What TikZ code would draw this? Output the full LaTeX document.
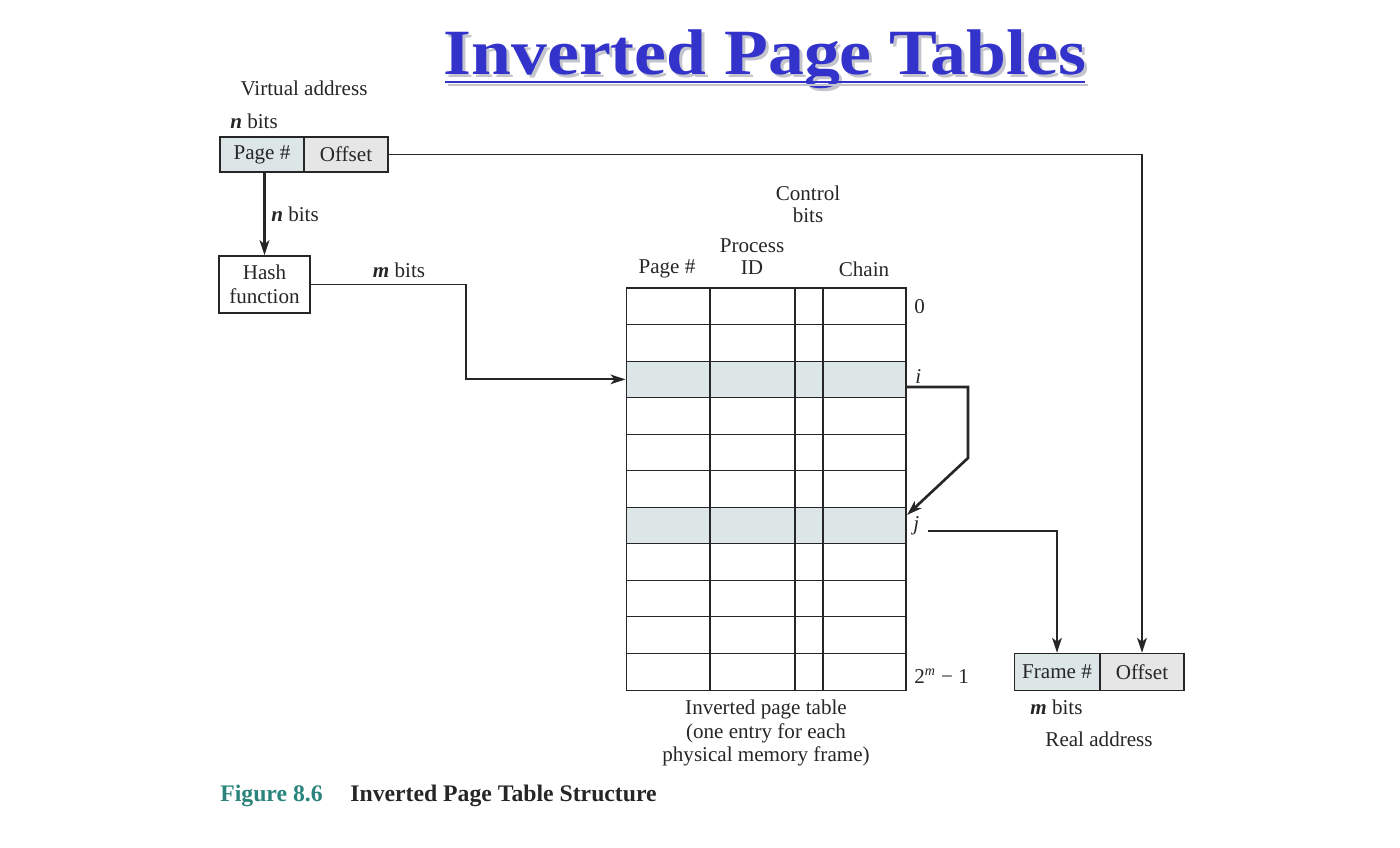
\documentclass[tikz,border=0pt]{standalone}
\usepackage{graphicx}
\usepackage{fontspec}
\setmainfont{Liberation Serif}
\usetikzlibrary{arrows.meta,calc}
\definecolor{ink}{HTML}{262626}
\definecolor{titleblue}{HTML}{3333CC}
\definecolor{shadowgray}{HTML}{C4C4CC}
\definecolor{pagefill}{HTML}{DDE6E6}
\definecolor{offfill}{HTML}{E6E6E6}
\definecolor{figteal}{HTML}{2A847C}
\newcommand{\headline}{\scalebox{1}[0.9]{Inverted Page Tables}}
\begin{document}
\begin{tikzpicture}[x=0.02cm,y=-0.02cm,
  every node/.style={text=ink,font=\fontsize{12}{14}\selectfont,inner sep=0pt},
  field/.style={draw=ink,line width=0.8pt,minimum height=0.7cm,minimum width=1.68cm},
  entry/.style={draw=ink,line width=0.6pt,minimum width=5.6cm,minimum height=0.731cm},
  shaded/.style={fill=pagefill},
  tip/.style={-{Stealth[length=8.5pt,width=5.5pt,inset=2.2pt]}},
  link/.style={draw=ink,line width=1.1pt,tip},
  boldlink/.style={draw=ink,line width=1.7pt,tip},
  label/.style={align=center},
  titlefont/.style={font=\fontsize{40.8}{44}\bfseries}]
\useasboundingbox (0,0) rectangle (1400,848);

% title with soft drop shadow and underline
\node[text=shadowgray,titlefont,anchor=base] (titleshadow) at (768,78) {\headline};
\node[text=titleblue,titlefont,anchor=base] (title) at (765,75) {\headline};
\draw[shadowgray,line width=1.7pt] (448,85) -- (1088,85);
\draw[titleblue,line width=1.7pt] (445,82) -- (1085,82);

% virtual address
\node (vlabel) at (304,88) {Virtual address};
\node (vbits) at (254,121) {\textbf{\textit{n}} bits};
\node[field,fill=pagefill] (vpage) at (262,154.5) {Page \#};
\node[field,fill=offfill] (voff) at (346,154.5) {Offset};

% hash function
\node[field,minimum width=1.82cm,minimum height=1.14cm,align=center,
      font=\fontsize{12}{13.5}\selectfont] (hash) at (264.5,284.5) {Hash\\function};
\draw[boldlink] (hash.north |- vpage.south) -- (hash.north);
\node (nbits) at (295,214) {\textbf{\textit{n}} bits};
\node (mbits) at (399,270) {\textbf{\textit{m}} bits};

% inverted page table
\foreach \r in {0,...,10}{
  \node[entry] (r\r) at (766,{288+36.55*\r+18.275}) {};
}
\node[entry,shaded] at (r2) {};
\node[entry,shaded] at (r6) {};
\foreach \c in {710,795,823}{
  \draw[ink,line width=0.6pt] (\c,288) -- (\c,690);
}
\node (hpage) at (667,269) {Page \#};
\node[label] (hpid) at (752,257) {Process\\[-1.5pt]ID};
\node (hchain) at (864,269) {Chain};
\node[label] (hctl) at (808,204) {Control\\[-1.5pt]bits};

\node[anchor=west] (l0) at (914,307) {0};
\node[anchor=west] (li) at (915,377) {\textit{i}};
\node[anchor=west] (lj) at (913,526) {\textit{j}};
\node[anchor=west] (lm) at (914,676) {2\textsuperscript{\textit{m}} − 1};

\node[label,font=\fontsize{12}{13.6}\selectfont] (tcap) at (766,733)
  {Inverted page table\\(one entry for each\\physical memory frame)};

% real address
\node[field,fill=pagefill,minimum width=1.7cm,minimum height=0.74cm] (rframe) at (1057,672) {Frame \#};
\node[field,fill=offfill,minimum height=0.74cm] (roff) at (1142,672) {Offset};
\node[anchor=west] (rbits) at (1030,707) {\textbf{\textit{m}} bits};
\node (rlabel) at (1099,739) {Real address};

% connectors
\coordinate (mbend) at (466,0);
\coordinate (ci) at (968,387);
\coordinate (cj) at (968,458);
\coordinate (chainend) at (907,515);
\coordinate (jstart) at (928,531);
\draw[link] (voff.east) -| (roff.north);
\draw[link] (hash.east) -- (hash.east -| mbend) |- (r2.west);
\draw[boldlink,line width=1.5pt] (r2.east |- ci) -- (ci) -- (cj) -- (chainend);
\draw[link] (jstart) -| (rframe.north);

% figure caption
\node[anchor=west,text=figteal,font=\fontsize{13.5}{16}\bfseries] (fignum) at (220,796) {Figure 8.6};
\node[anchor=west,font=\fontsize{13.5}{16}\bfseries] (figtitle) at (350,796) {Inverted Page Table Structure};
\end{tikzpicture}
\end{document}
